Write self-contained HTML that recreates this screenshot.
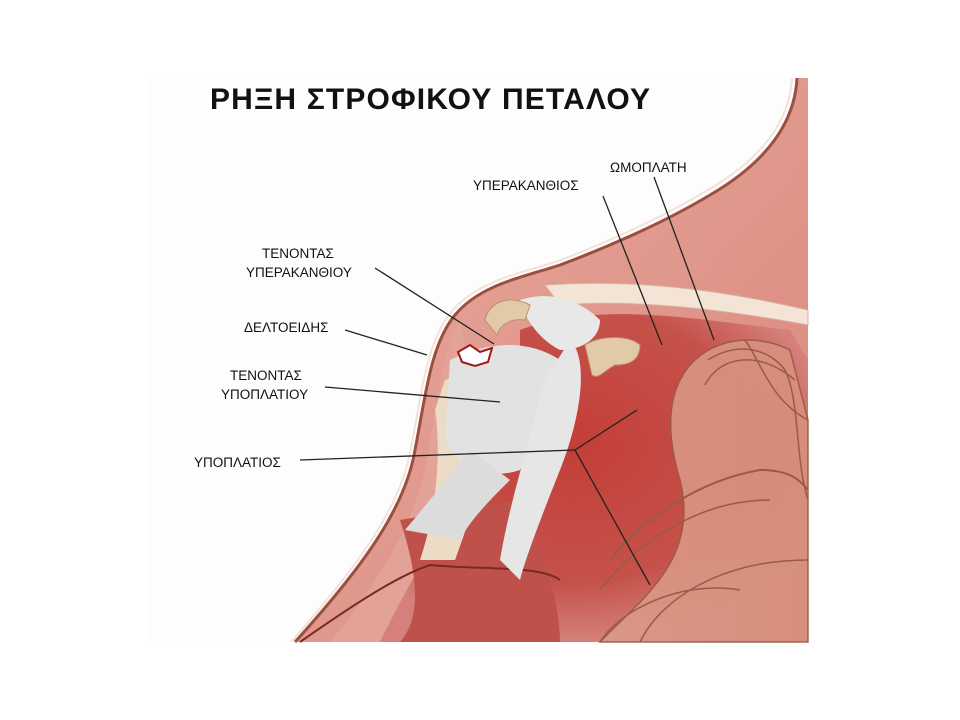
<!DOCTYPE html>
<html><head><meta charset="utf-8"><style>
html,body{margin:0;padding:0;background:#fff;}
svg{display:block}
text{font-family:"Liberation Sans",sans-serif;fill:#111}
</style></head><body>
<svg width="960" height="720" viewBox="0 0 960 720" xmlns="http://www.w3.org/2000/svg">
<defs>
<linearGradient id="sk" x1="0" y1="0" x2="1" y2="1">
<stop offset="0" stop-color="#e9aca0"/><stop offset="1" stop-color="#d9857a"/></linearGradient>
<radialGradient id="mu" cx="0.45" cy="0.4" r="0.6">
<stop offset="0" stop-color="#c43e38"/><stop offset="0.7" stop-color="#c5524a"/><stop offset="1" stop-color="#d5807a"/></radialGradient>
<linearGradient id="rib" x1="0" y1="0" x2="1" y2="0">
<stop offset="0" stop-color="#dc9a88"/><stop offset="1" stop-color="#d8907e"/></linearGradient>
</defs>
<rect x="148" y="78" width="660" height="564" fill="#fdfdfd"/>
<path d="M808,78 L797,78 C795,120 770,160 710,195 C660,225 600,250 560,265 C520,278 480,285 455,315 C430,345 425,400 415,450 C405,510 360,570 295,642 L808,642 Z" fill="url(#sk)"/>
<path d="M797,78 C795,120 770,160 710,195 C660,225 600,250 560,265 C520,278 480,285 455,315 C430,345 425,400 415,450 C405,510 360,570 295,642" fill="none" stroke="#9a5040" stroke-width="3"/>
<path d="M792,78 C790,118 766,156 708,190 C658,220 598,246 558,261 C518,274 478,281 452,311 C426,341 421,398 411,448 C401,508 356,568 291,642" fill="none" stroke="#f6e0d8" stroke-width="2"/>
<path d="M460,320 C440,360 435,420 425,470 C410,530 380,580 330,642 L420,642 C430,560 440,470 470,380 Z" fill="#e4a59a" opacity="0.8"/>
<path d="M520,330 C600,300 700,320 790,330 L808,360 L808,642 L380,642 C420,560 470,480 520,420 Z" fill="url(#mu)"/>
<path d="M680,380 C700,340 750,330 790,350 L808,420 L808,642 L600,642 C640,600 700,560 680,480 C665,430 670,400 680,380 Z" fill="url(#rib)" opacity="0.9" stroke="#9a5a48" stroke-width="1.5"/>
<path d="M705,385 C720,355 760,350 795,380" fill="none" stroke="#9a5a48" stroke-width="1.5"/>
<path d="M708,360 C740,340 770,350 785,370 C800,400 795,460 808,500" fill="none" stroke="#9a5a48" stroke-width="1.5"/>
<path d="M745,340 C760,360 770,400 808,420" fill="none" stroke="#9a5a48" stroke-width="1.5"/>
<path d="M610,560 C640,520 700,480 760,470 C790,470 800,480 808,490" fill="none" stroke="#9a5a48" stroke-width="2"/>
<path d="M600,590 C640,540 700,500 770,500" fill="none" stroke="#9a5a48" stroke-width="1.5"/>
<path d="M640,642 C660,600 720,560 808,560" fill="none" stroke="#9a5a48" stroke-width="1.5"/>
<path d="M600,642 C620,610 680,580 740,590" fill="none" stroke="#9a5a48" stroke-width="1.5"/>
<path d="M545,285 C620,280 700,285 808,310 L808,325 C700,305 620,300 560,305 Z" fill="#f3e4d6" stroke="#d9b0a0" stroke-width="1"/>
<path d="M400,520 C420,580 420,620 400,642 L560,642 C560,600 540,540 520,500 Z" fill="#c0504a"/>
<path d="M300,642 C360,600 400,575 430,565 C480,570 540,565 560,580" fill="none" stroke="#7a2a25" stroke-width="2"/>
<path d="M445,380 C470,370 495,385 490,420 C485,470 470,520 455,560 L420,560 C440,500 440,440 435,410 Z" fill="#ecdcc6"/>
<path d="M450,360 C490,340 530,340 560,360 C550,400 540,440 520,470 C490,480 460,470 445,440 Z" fill="#e2e2e2"/>
<path d="M570,340 C590,360 580,420 560,470 C540,520 525,560 520,580 L500,560 C510,500 530,440 545,380 Z" fill="#e6e6e6"/>
<path d="M510,480 C490,500 470,520 460,540 L405,530 C430,500 455,470 470,450 Z" fill="#dcdcdc"/>
<path d="M520,300 C550,290 580,300 600,320 C600,340 580,350 560,350 C540,340 525,320 520,300 Z" fill="#e8e8e8"/>
<path d="M485,320 C490,300 510,295 530,305 L525,320 C510,318 500,325 497,335 Z" fill="#e2c9a8" stroke="#b89070"/>
<path d="M585,345 C600,335 630,335 640,345 C640,360 630,365 615,365 C605,370 598,380 592,375 Z" fill="#e2c9a8" stroke="#b89070"/>
<path d="M458,352 L470,345 L480,352 L492,348 L488,362 L475,366 L462,362 Z" fill="#fff" stroke="#a01818" stroke-width="2"/>
<g stroke="#222" stroke-width="1.3" fill="none">
<line x1="375" y1="268" x2="494" y2="344"/>
<line x1="345" y1="330" x2="427" y2="355"/>
<line x1="325" y1="387" x2="500" y2="402"/>
<line x1="300" y1="460" x2="575" y2="450"/>
<line x1="575" y1="450" x2="637" y2="410"/>
<line x1="575" y1="450" x2="650" y2="585"/>
<line x1="603" y1="196" x2="662" y2="345"/>
<line x1="654" y1="177" x2="714" y2="340"/>
</g>
<text x="210" y="109" font-size="30" font-weight="bold" textLength="440" lengthAdjust="spacing">ΡΗΞΗ ΣΤΡΟΦΙΚΟΥ ΠΕΤΑΛΟΥ</text>
<g font-size="13.5">
<text x="610" y="172">ΩΜΟΠΛΑΤΗ</text>
<text x="473" y="190">ΥΠΕΡΑΚΑΝΘΙΟΣ</text>
<text x="262" y="258">ΤΕΝΟΝΤΑΣ</text>
<text x="246" y="277">ΥΠΕΡΑΚΑΝΘΙΟΥ</text>
<text x="244" y="332">ΔΕΛΤΟΕΙΔΗΣ</text>
<text x="230" y="380">ΤΕΝΟΝΤΑΣ</text>
<text x="221" y="399">ΥΠΟΠΛΑΤΙΟΥ</text>
<text x="194" y="467">ΥΠΟΠΛΑΤΙΟΣ</text>
</g>
</svg>
</body></html>
